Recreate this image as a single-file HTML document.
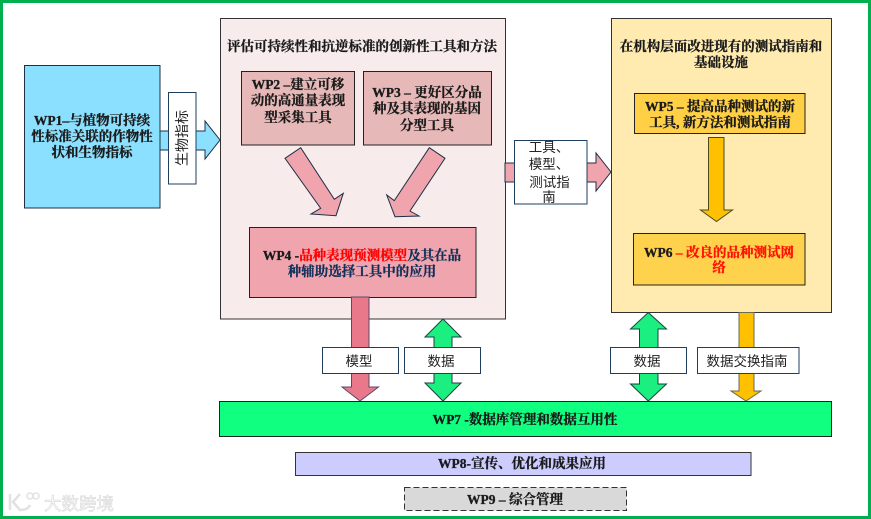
<!DOCTYPE html>
<html><head><meta charset="utf-8">
<style>
html,body{margin:0;padding:0;background:#fff;width:871px;height:519px;overflow:hidden}
svg{display:block}
.b{font-family:"Liberation Serif","Noto Serif CJK SC",serif;font-weight:700;font-size:13.5px;fill:#1a1a1a;stroke:#1a1a1a;stroke-width:.3;text-anchor:middle}
.n{font-family:"Liberation Sans","Noto Sans CJK SC",sans-serif;font-weight:400;font-size:13.5px;fill:#222;text-anchor:middle}
.s{stroke:#1f2f45;stroke-width:1}
</style></head>
<body>
<svg width="871" height="519" viewBox="0 0 871 519" xmlns="http://www.w3.org/2000/svg">
<rect x="1.5" y="1.5" width="868" height="516" fill="#fff" stroke="#00B050" stroke-width="3"/>

<!-- panels -->
<rect x="220.5" y="18.5" width="285" height="300.5" fill="#F7EBEB" stroke="#333" stroke-width="1"/>
<rect x="611.5" y="18.5" width="220" height="294" fill="#FFEBB0" stroke="#333" stroke-width="1"/>

<!-- WP1 -->
<polygon class="s" points="160,131 205,131 205,121 220,140 205,159 205,150 160,150" fill="#8BE0FF"/>
<rect x="24.5" y="65.5" width="135.5" height="142.5" fill="#8BE0FF" stroke="#1f2f45"/>
<text class="b" x="92" y="125">WP1–与植物可持续</text>
<text class="b" x="92" y="141">性标准关联的作物性</text>
<text class="b" x="92" y="157">状和生物指标</text>
<rect x="168.5" y="92.5" width="27.5" height="91.5" fill="#fff" stroke="#1f3f5f"/>
<text class="n" transform="translate(187,138) rotate(-90)" x="0" y="0" style="font-size:14px">生物指标</text>

<!-- WP2, WP3 -->
<rect x="241.5" y="71.5" width="113" height="73.5" fill="#E6B9B8" stroke="#222"/>
<text class="b" x="298" y="89">WP2 –建立可移</text>
<text class="b" x="298" y="105">动的高通量表现</text>
<text class="b" x="298" y="122">型采集工具</text>
<rect x="363.5" y="71.5" width="128" height="73.5" fill="#E6B9B8" stroke="#222"/>
<text class="b" x="427" y="97">WP3 – 更好区分品</text>
<text class="b" x="427" y="113">种及其表现的基因</text>
<text class="b" x="427" y="130">分型工具</text>

<text class="b" x="362" y="51">评估可持续性和抗逆标准的创新性工具和方法</text>

<!-- diagonal arrows -->
<polygon class="s" points="285,158.3 300.7,147.7 334.3,199.3 343.3,193.3 336,215.7 311,214 320.7,208.3" fill="#F0A5AE"/>
<polygon class="s" points="429.3,147.7 445,158.3 410,211 419,216 395,216.7 386.7,195 394.3,200.7" fill="#F0A5AE"/>

<!-- WP4 -->
<rect x="249.5" y="227.5" width="226.5" height="70" fill="#F0A5AE" stroke="#222"/>
<text class="b" x="362" y="260"><tspan>WP4 -</tspan><tspan fill="#FF0000" stroke="#FF0000">品种表现预测模型</tspan><tspan fill="#10305a" stroke="#10305a">及其在品</tspan></text>
<text class="b" x="362" y="276" style="fill:#10305a;stroke:#10305a">种辅助选择工具中的应用</text>

<!-- center arrow -->
<polygon class="s" points="505,163 596,163 596,153 611,172 596,191 596,182 505,182" fill="#F0A5AE"/>
<rect x="514.5" y="140.5" width="72.5" height="63.5" fill="#fff" stroke="#1f3f5f"/>
<text class="n" x="549" y="152">工具、</text>
<text class="n" x="549" y="169">模型、</text>
<text class="n" x="549.5" y="187">测试指</text>
<text class="n" x="549" y="202">南</text>

<!-- right panel content -->
<text class="b" x="721" y="51">在机构层面改进现有的测试指南和</text>
<text class="b" x="721" y="67">基础设施</text>
<rect x="634.5" y="93.5" width="170.5" height="40" fill="#FFCF45" stroke="#222"/>
<text class="b" x="720" y="111">WP5 – 提高品种测试的新</text>
<text class="b" x="720" y="127">工具, 新方法和测试指南</text>
<polygon points="708.5,137.5 724,137.5 724,210 732.5,210 716.5,221.5 700.5,210 708.5,210" fill="#FFC000" stroke="#4a4a20"/>
<rect x="633.5" y="233.5" width="171.5" height="51.5" fill="#FFD24D" stroke="#222"/>
<text class="b" x="719" y="257"><tspan>WP6 </tspan><tspan fill="#FF1000" stroke="#FF1000">– 改良的品种测试网</tspan></text>
<text class="b" x="719" y="272" style="fill:#FF1000;stroke:#FF1000">络</text>

<!-- bottom arrows -->
<polygon points="351.5,297 369,297 369,387 378.5,387 360,401 342,387 351.5,387" fill="#E8788A" stroke="#5a4a6a"/>
<polygon points="443,319 461,337 452,337 452,383 461,383 443,401 425,383 434,383 434,337 425,337" fill="#1AEF80" stroke="#1f3f45"/>
<polygon points="648.3,312.5 666.5,329 658,329 658,384 666.5,384 648.3,401 630.5,384 639.5,384 639.5,329 630.5,329" fill="#1AEF80" stroke="#1f3f45"/>
<polygon points="739,312.5 754,312.5 754,391 761,391 746,401 731,391 739,391" fill="#FFC000" stroke="#6a6a50"/>

<rect x="322.5" y="347.5" width="76" height="26" fill="#fff" stroke="#1f3f5f"/>
<text class="n" x="359" y="366">模型</text>
<rect x="404.5" y="347.5" width="76" height="26" fill="#fff" stroke="#1f3f5f"/>
<text class="n" x="441" y="366">数据</text>
<rect x="610.5" y="347.5" width="76" height="26" fill="#fff" stroke="#1f3f5f"/>
<text class="n" x="647" y="366">数据</text>
<rect x="697.5" y="347.5" width="101.5" height="26" fill="#fff" stroke="#1f3f5f"/>
<text class="n" x="747" y="366">数据交换指南</text>

<!-- WP7-9 -->
<rect x="219.5" y="401.5" width="612" height="35" fill="#10FF80" stroke="#222"/>
<text class="b" x="525" y="424">WP7 -数据库管理和数据互用性</text>
<rect x="295.5" y="452.5" width="455.5" height="23" fill="#CCCCFF" stroke="#333"/>
<text class="b" x="522" y="468">WP8-宣传、优化和成果应用</text>
<rect x="404.5" y="487.5" width="222" height="23" fill="#D9D9D9" stroke="#333" stroke-dasharray="6 3"/>
<text class="b" x="515" y="504">WP9 – 综合管理</text>

<!-- watermark -->
<g fill="none" stroke="#e2e2e2" stroke-width="2.5">
<path d="M10 494 V510"/>
<path d="M20 494 L13 502 L20 510 Q28 510 30 505"/>
<circle cx="30" cy="496" r="3" stroke-width="1.5"/>
<circle cx="36" cy="496" r="3" stroke-width="1.5"/>
</g>
<text x="44" y="510" style="font-family:'Liberation Sans','Noto Sans CJK SC',sans-serif;font-size:17.5px;fill:#fff;stroke:#dcdcdc;stroke-width:.7">大数跨境</text>
</svg>
</body></html>
